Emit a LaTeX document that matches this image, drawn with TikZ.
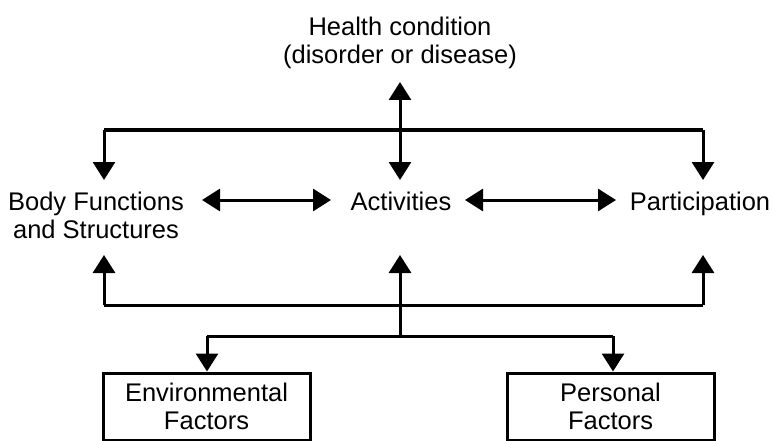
\documentclass[tikz,border=0pt]{standalone}
\usepackage{fontspec}
\setmainfont{Liberation Sans}
\usetikzlibrary{arrows.meta}
\begin{document}
\begin{tikzpicture}[x=1pt,y=-1pt,
  lbl/.style={inner sep=0pt,align=center,font=\fontsize{25.5}{28}\selectfont},
  factorbox/.style={draw,line width=3pt,inner sep=0pt,align=center,minimum width=207pt,minimum height=67pt,font=\fontsize{25.5}{28}\selectfont},
  conn/.style={line width=3pt},
  tip/.style={conn,-{Triangle[length=18pt,width=22pt]}},
  dtip/.style={conn,{Triangle[length=18pt,width=22pt]}-{Triangle[length=18pt,width=22pt]}}]
\useasboundingbox (0,0) rectangle (773,441);
\fill[white] (0,0) rectangle (773,441);
% labels
\node[lbl] (health) at (400,42.6) {Health condition\\(disorder or disease)};
\node[lbl] (body) at (96,215) {Body Functions\\and Structures};
\node[lbl,anchor=base] (act) at (401,210) {Activities};
\node[lbl,anchor=base] (part) at (700,210) {Participation};
\node[factorbox] (env) at (206.5,406.5) {Environmental\\Factors};
\node[factorbox] (pers) at (610.5,406.5) {Personal\\Factors};
% named points
\coordinate (hTop) at (400,82);
\coordinate (hBot) at (400,180);
\coordinate (busT) at (400,130);
\coordinate (busTL) at (104,130);
\coordinate (busTR) at (703,130);
\coordinate (bodyTop) at (104,180);
\coordinate (partTop) at (703,180);
\coordinate (bodyL) at (202,200);
\coordinate (actL) at (331,200);
\coordinate (actR) at (465,200);
\coordinate (partL) at (616,200);
\coordinate (bodyBot) at (104,255);
\coordinate (actBot) at (400,255);
\coordinate (partBot) at (703,255);
\coordinate (busB) at (400,305);
\coordinate (busBL) at (104,305);
\coordinate (busBR) at (703,305);
\coordinate (fork) at (400,336);
\coordinate (forkL) at (207,336);
\coordinate (forkR) at (613,336);
% connectors
\draw[dtip] (hTop) -- (hBot);
\draw[conn] (busTL) -- (busTR);
\draw[tip] (busTL) -- (bodyTop);
\draw[tip] (busTR) -- (partTop);
\draw[dtip] (bodyL) -- (actL);
\draw[dtip] (actR) -- (partL);
\draw[conn] (busBL) -- (busBR);
\draw[tip] (busBL) -- (bodyBot);
\draw[tip] (busBR) -- (partBot);
\draw[tip] (fork) -- (actBot);
\draw[conn] (forkL) -- (forkR);
\draw[tip] (forkL) -- (env.north -| forkL);
\draw[tip] (forkR) -- (pers.north -| forkR);
\end{tikzpicture}
\end{document}
